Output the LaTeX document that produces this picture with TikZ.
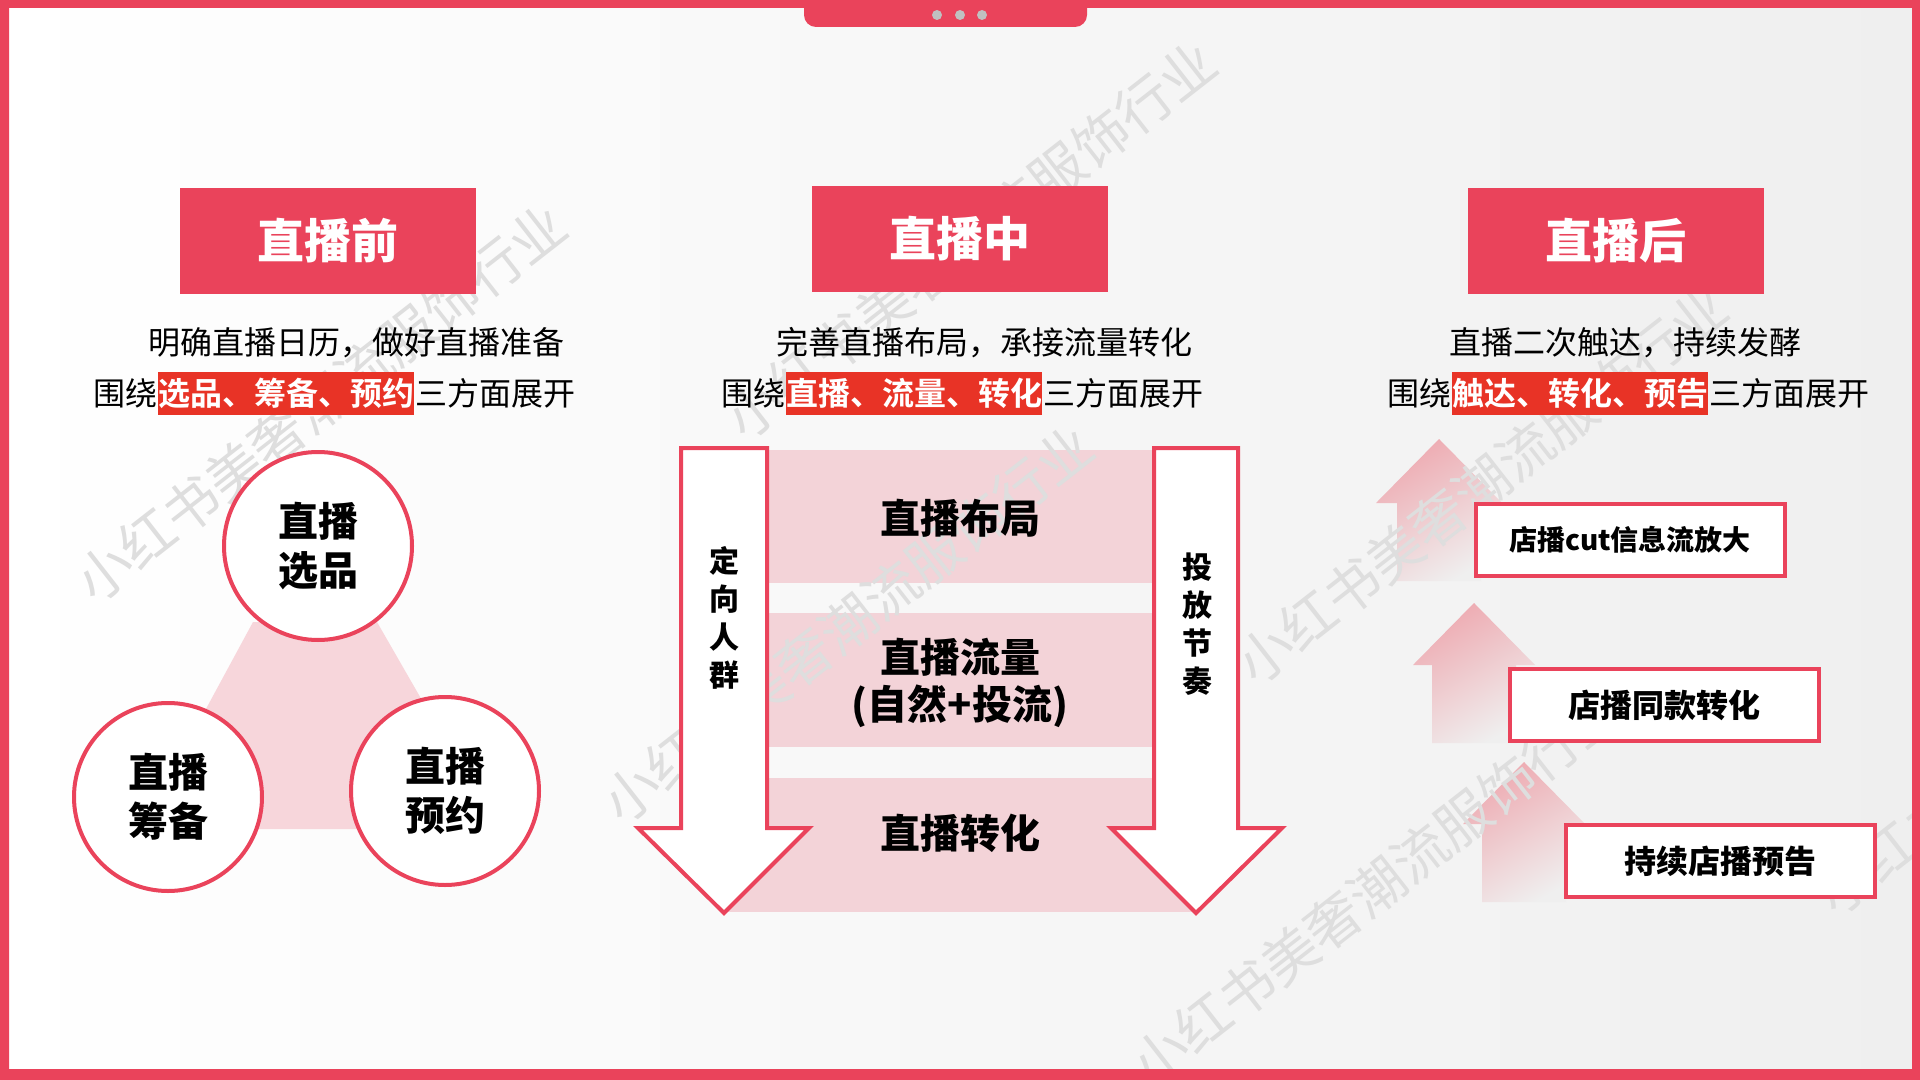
\documentclass[tikz,border=0pt]{standalone}
\usepackage{fontspec}
\setmainfont{Noto Sans CJK SC}[BoldFont={Noto Sans CJK SC Bold}]
\newfontfamily\heavy{Noto Sans CJK SC Black}
\usetikzlibrary{positioning}
\definecolor{mainred}{RGB}{234,67,91}
\definecolor{hired}{RGB}{232,51,38}
\definecolor{bandpink}{RGB}{243,211,216}
\definecolor{tripink}{RGB}{247,214,219}
\definecolor{bgright}{RGB}{239,239,239}
\definecolor{wmgray}{RGB}{222,222,222}
\definecolor{dotgray}{RGB}{192,192,192}
\definecolor{arrowtop}{RGB}{238,170,177}
\tikzset{
  header/.style={fill=mainred, text=white, inner sep=0pt, minimum width=148pt, minimum height=53pt,
    font=\heavy\fontsize{23.5}{28}\selectfont},
  line/.style={inner sep=0pt, font=\fontsize{16}{19}\selectfont},
  hilite/.style={fill=hired, text=white, inner sep=0pt, minimum height=21.5pt,
    font=\bfseries\fontsize{16}{19}\selectfont},
  topic/.style={circle, draw=mainred, line width=2pt, fill=white, minimum size=94pt, inner sep=0pt,
    align=center, font=\heavy\fontsize{20}{24.5}\selectfont},
  bandtext/.style={inner sep=0pt, align=center, font=\heavy\fontsize{20}{23.5}\selectfont},
  sidetext/.style={inner sep=0pt, align=center, font=\heavy\fontsize{15}{19}\selectfont},
  downarrow/.style={fill=white, draw=mainred, line width=2pt},
  uparrow/.style={top color=arrowtop, bottom color=bgright, shading angle=30},
  afterbox/.style={draw=mainred, line width=2pt, fill=white, minimum width=154.5pt, minimum height=36pt,
    inner sep=0pt, font=\heavy\fontsize{16}{19}\selectfont},
  watermark/.style={rotate=38, text=wmgray, inner sep=0pt, font=\fontsize{27.5}{30}\selectfont}
}
\begin{document}
\begin{tikzpicture}[x=0.5pt, y=-0.5pt]
\useasboundingbox (0,0) rectangle (1920,1080);
\shade[left color=white, right color=bgright] (0,0) rectangle (1920,1080);

\fill[tripink] (253,622) -- (377,622) -- (496,829) -- (141,829) -- cycle;
\fill[bandpink] (724,450) rectangle (1196,583);
\fill[bandpink] (724,613) rectangle (1196,747);
\fill[bandpink] (724,778) rectangle (1196,912);
\shade[uparrow] (1439,439) -- (1502,503) -- (1481,503) -- (1481,581) -- (1397,581) -- (1397,503) -- (1376,503) -- cycle;
\shade[uparrow] (1474,603) -- (1535,665) -- (1516,665) -- (1516,743) -- (1432,743) -- (1432,665) -- (1413,665) -- cycle;
\shade[uparrow] (1524,762) -- (1585,824) -- (1566,824) -- (1566,902) -- (1482,902) -- (1482,824) -- (1463,824) -- cycle;

\begin{scope}
\clip (0,0) rectangle (1920,1080);
\node[watermark] (wmA) at (321,403) {小红书美奢潮流服饰行业};
\node[watermark] (wmB) at (971,240) {小红书美奢潮流服饰行业};
\node[watermark] (wmC) at (848,624) {小红书美奢潮流服饰行业};
\node[watermark] (wmD) at (1482,485) {小红书美奢潮流服饰行业};
\node[watermark] (wmE) at (1377,887) {小红书美奢潮流服饰行业};
\node[watermark] (wmF) at (2062,716) {小红书美奢潮流服饰行业};
\end{scope}

\node[header] (pre) at (328,241) {直播前};
\node[header] (mid) at (960,239) {直播中};
\node[header] (post) at (1616,241) {直播后};

\node[line, anchor=west] (preA) at (148,343) {明确直播日历，做好直播准备};
\node[line, anchor=west] (preB) at (93,393) {围绕};
\node[hilite, right=0pt of preB] (preC) {选品、筹备、预约};
\node[line, right=0pt of preC] (preD) {三方面展开};

\node[line, anchor=west] (midA) at (776,343) {完善直播布局，承接流量转化};
\node[line, anchor=west] (midB) at (721,393) {围绕};
\node[hilite, right=0pt of midB] (midC) {直播、流量、转化};
\node[line, right=0pt of midC] (midD) {三方面展开};

\node[line, anchor=west] (postA) at (1449,343) {直播二次触达，持续发酵};
\node[line, anchor=west] (postB) at (1387,393) {围绕};
\node[hilite, right=0pt of postB] (postC) {触达、转化、预告};
\node[line, right=0pt of postC] (postD) {三方面展开};

\node[topic] (pick) at (318,546) {直播\\选品};
\node[topic] (prep) at (168,797) {直播\\筹备};
\node[topic] (book) at (445,791) {直播\\预约};

\draw[downarrow] (681,448) -- (767,448) -- (767,828) -- (809,828) -- (724,913) -- (638,828) -- (681,828) -- cycle;
\draw[downarrow] (1154,448) -- (1238,448) -- (1238,828) -- (1282,828) -- (1196,913) -- (1111,828) -- (1154,828) -- cycle;
\node[sidetext] (crowd) at (724,618) {定\\向\\人\\群};
\node[sidetext] (pace) at (1197,624) {投\\放\\节\\奏};
\node[bandtext] (layout) at (960,518) {直播布局};
\node[bandtext] (flow) at (960,683) {直播流量\\(自然+投流)};
\node[bandtext] (convert) at (960,833) {直播转化};

\node[afterbox, font=\heavy\fontsize{14}{17}\selectfont] (clip) at (1630,540) {店播cut信息流放大};
\node[afterbox] (same) at (1664,705) {店播同款转化};
\node[afterbox] (notice) at (1720,861) {持续店播预告};

\fill[mainred, even odd rule] (0,0) rectangle (1920,1080) (9,8) rectangle (1912,1069);
\fill[mainred, rounded corners=6pt] (804,-30) -- (804,27) -- (1087,27) -- (1087,-30) -- cycle;
\fill[dotgray] (937,15) circle (2.5pt) (960,15) circle (2.5pt) (982,15) circle (2.5pt);
\end{tikzpicture}
\end{document}
